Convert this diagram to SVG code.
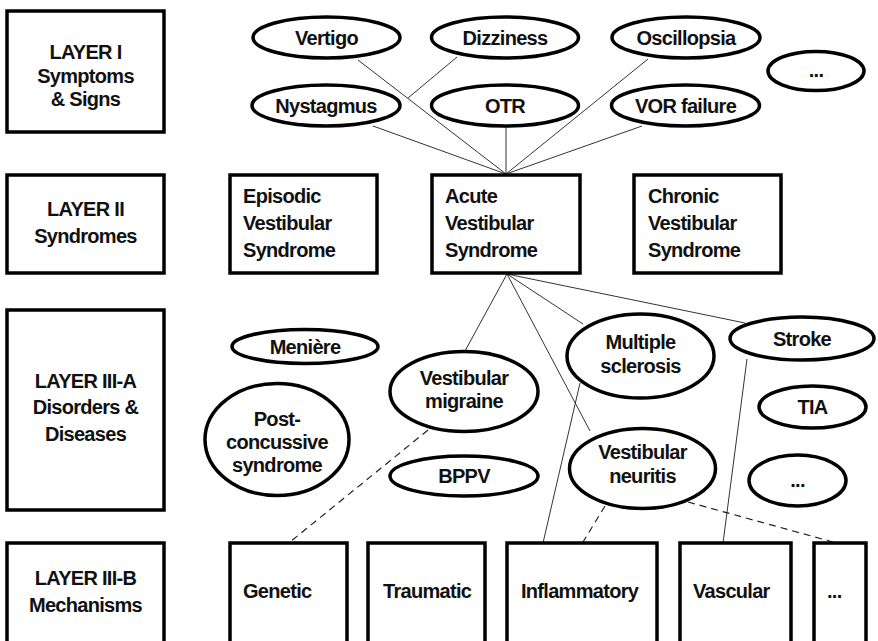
<svg xmlns="http://www.w3.org/2000/svg" width="878" height="641" viewBox="0 0 878 641">
<style>
  .box { fill: #fff; stroke: #000; stroke-width: 3.5; }
  .ell { fill: #fff; stroke: #000; stroke-width: 3.5; }
  .t { font-family: "Liberation Sans", Arial, sans-serif; font-weight: bold; font-size: 20px; letter-spacing: -0.7px; fill: #111; }
  .c { text-anchor: middle; }
  .ln { stroke: #333; stroke-width: 1; fill: none; }
  .dash { stroke: #222; stroke-width: 1.2; fill: none; stroke-dasharray: 7 5; }
</style>
<rect width="878" height="641" fill="#fff"/>

<g id="connectors">
  <line class="ln" x1="358" y1="60" x2="506" y2="174"/>
  <line class="ln" x1="457" y1="57" x2="408" y2="98"/>
  <line class="ln" x1="373" y1="126" x2="506" y2="174"/>
  <line class="ln" x1="506" y1="127" x2="506" y2="174"/>
  <line class="ln" x1="648" y1="59" x2="506" y2="174"/>
  <line class="ln" x1="642" y1="126" x2="506" y2="174"/>
  <line class="ln" x1="507" y1="274" x2="465" y2="351"/>
  <line class="ln" x1="507" y1="274" x2="590" y2="431"/>
  <line class="ln" x1="507" y1="274" x2="583" y2="324"/>
  <line class="ln" x1="507" y1="274" x2="745" y2="323"/>
  <line class="ln" x1="580" y1="383" x2="543" y2="543"/>
  <line class="ln" x1="747" y1="359" x2="723" y2="543"/>
  <line class="dash" x1="428" y1="430" x2="290" y2="542"/>
  <line class="dash" x1="605" y1="506" x2="583" y2="542"/>
  <line class="dash" x1="688" y1="502" x2="833" y2="542"/>
</g>

<g id="layer1">
  <rect class="box" x="7" y="11" width="157" height="121"/>
  <text class="t c" x="85.5" y="59">LAYER I</text>
  <text class="t c" x="85.5" y="83">Symptoms</text>
  <text class="t c" x="85.5" y="106">&amp; Signs</text>
</g>
<g id="layer2">
  <rect class="box" x="7" y="175" width="157" height="98"/>
  <text class="t c" x="85.5" y="216">LAYER II</text>
  <text class="t c" x="85.5" y="243">Syndromes</text>
</g>
<g id="layer3a">
  <rect class="box" x="7" y="310" width="157" height="200"/>
  <text class="t c" x="85.5" y="388">LAYER III-A</text>
  <text class="t c" x="85.5" y="414">Disorders &amp;</text>
  <text class="t c" x="85.5" y="441">Diseases</text>
</g>
<g id="layer3b">
  <rect class="box" x="7" y="543" width="157" height="120"/>
  <text class="t c" x="85.5" y="585">LAYER III-B</text>
  <text class="t c" x="85.5" y="612">Mechanisms</text>
</g>

<g id="vertigo"><ellipse class="ell" cx="326.5" cy="37.5" rx="73.5" ry="20.5"/><text class="t c" x="326.5" y="44.5">Vertigo</text></g>
<g id="dizziness"><ellipse class="ell" cx="505" cy="37.5" rx="73.5" ry="20.5"/><text class="t c" x="505" y="44.5">Dizziness</text></g>
<g id="oscillopsia"><ellipse class="ell" cx="686" cy="37.5" rx="74" ry="20.5"/><text class="t c" x="686" y="44.5">Oscillopsia</text></g>
<g id="nystagmus"><ellipse class="ell" cx="326" cy="105.5" rx="74" ry="20.5"/><text class="t c" x="326" y="112.5">Nystagmus</text></g>
<g id="otr"><ellipse class="ell" cx="505" cy="105.5" rx="73.5" ry="20.5"/><text class="t c" x="505" y="112.5">OTR</text></g>
<g id="vor"><ellipse class="ell" cx="685.5" cy="105.5" rx="74" ry="20.5"/><text class="t c" x="685.5" y="112.5">VOR failure</text></g>
<g id="more1"><ellipse class="ell" cx="816" cy="71" rx="48" ry="19.5"/><text class="t c" x="816" y="77">...</text></g>

<g id="episodic"><rect class="box" x="230" y="175" width="147" height="98"/>
  <text class="t" x="243" y="203">Episodic</text><text class="t" x="243" y="230">Vestibular</text><text class="t" x="243" y="257">Syndrome</text></g>
<g id="acute"><rect class="box" x="432" y="175" width="148" height="98"/>
  <text class="t" x="445" y="203">Acute</text><text class="t" x="445" y="230">Vestibular</text><text class="t" x="445" y="257">Syndrome</text></g>
<g id="chronic"><rect class="box" x="634" y="175" width="147" height="98"/>
  <text class="t" x="648" y="203">Chronic</text><text class="t" x="648" y="230">Vestibular</text><text class="t" x="648" y="257">Syndrome</text></g>

<g id="meniere"><ellipse class="ell" cx="305" cy="346.5" rx="73" ry="17"/><text class="t c" x="305" y="353.5">Menière</text></g>
<g id="postconcussive"><ellipse class="ell" cx="277" cy="439.5" rx="72" ry="56"/>
  <text class="t c" x="277" y="426">Post-</text><text class="t c" x="277" y="449">concussive</text><text class="t c" x="277" y="472">syndrome</text></g>
<g id="vmigraine"><ellipse class="ell" cx="464" cy="391.5" rx="74" ry="40"/>
  <text class="t c" x="464" y="385">Vestibular</text><text class="t c" x="464" y="408">migraine</text></g>
<g id="bppv"><ellipse class="ell" cx="464" cy="476" rx="74" ry="20"/><text class="t c" x="464" y="483">BPPV</text></g>
<g id="ms"><ellipse class="ell" cx="640.5" cy="356" rx="73.5" ry="42"/>
  <text class="t c" x="640.5" y="349">Multiple</text><text class="t c" x="640.5" y="373">sclerosis</text></g>
<g id="vneuritis"><ellipse class="ell" cx="642.5" cy="468.5" rx="73" ry="40"/>
  <text class="t c" x="642.5" y="459">Vestibular</text><text class="t c" x="642.5" y="483">neuritis</text></g>
<g id="stroke"><ellipse class="ell" cx="802" cy="338.5" rx="72" ry="21.5"/><text class="t c" x="802" y="345.5">Stroke</text></g>
<g id="tia"><ellipse class="ell" cx="812.5" cy="407" rx="53.5" ry="21"/><text class="t c" x="812.5" y="414">TIA</text></g>
<g id="more3a"><ellipse class="ell" cx="797.5" cy="480.5" rx="48.5" ry="25.5"/><text class="t c" x="797.5" y="487">...</text></g>

<g id="genetic"><rect class="box" x="230" y="543" width="117" height="120"/><text class="t" x="243" y="598">Genetic</text></g>
<g id="traumatic"><rect class="box" x="368" y="543" width="117" height="120"/><text class="t" x="383" y="598">Traumatic</text></g>
<g id="inflammatory"><rect class="box" x="507" y="543" width="150" height="120"/><text class="t" x="521" y="598">Inflammatory</text></g>
<g id="vascular"><rect class="box" x="680" y="543" width="111" height="120"/><text class="t" x="693" y="598">Vascular</text></g>
<g id="more3b"><rect class="box" x="814" y="543" width="52" height="120"/><text class="t" x="827" y="598">...</text></g>
</svg>
